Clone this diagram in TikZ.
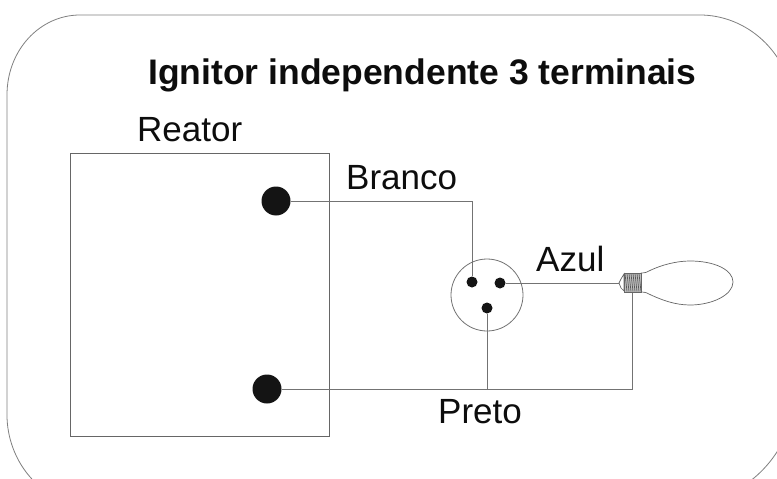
\documentclass[tikz,border=0pt]{standalone}
\usepackage{fontspec}
\setmainfont{Liberation Sans}
\tikzset{
  wire/.style={draw=black!55,line width=1pt},
  frameline/.style={draw=black!50,line width=0.8pt},
  pin/.style={circle,fill=black!92,inner sep=0pt,minimum size=#1},
  lbl/.style={anchor=base west,inner sep=0pt,text=black!95,font=\fontsize{35}{35}\selectfont}
}
\begin{document}
\begin{tikzpicture}[x=1pt,y=-1pt]
\useasboundingbox (0,0) rectangle (777,479);
\fill[white] (0,0) rectangle (777,479);
\begin{scope}
\clip (0,0) rectangle (777,479);
\draw[frameline] (7,95) .. controls (7,50) and (40,15) .. (80,15) -- (700,15) .. controls (745,15) and (790,50) .. (795,110) -- (795,400) .. controls (790,450) and (755,490) .. (705,503) -- (85,503) .. controls (40,503) and (7,460) .. (7,415) -- cycle;
\end{scope}
\node[lbl,font=\fontsize{35.5}{35.5}\selectfont\bfseries] (title) at (148,84) {Ignitor independente 3 terminais};
\node[lbl] (reator) at (137,141) {Reator};
\node[lbl] (branco) at (346,189) {Branco};
\node[lbl] (azul) at (536,271) {Azul};
\node[lbl] (preto) at (438,423.5) {Preto};
\node[draw=black!60,line width=0.8pt,minimum width=259pt,minimum height=283pt,inner sep=0pt] (box) at (199.5,294.5) {};
\node[draw=black!55,line width=0.8pt,circle,minimum size=72pt,inner sep=0pt] (socket) at (487,295) {};
\node[pin=29pt] (t1) at (276,201) {};
\node[pin=29pt] (t2) at (267,389) {};
\node[pin=11pt] (s1) at (472,282) {};
\node[pin=11pt] (s2) at (500,283) {};
\node[pin=11pt] (s3) at (487,308) {};
\coordinate (lamptip) at (620,283);
\coordinate (lampbase) at (632,292);
\coordinate (c1) at (472,201);
\coordinate (c2) at (632,389);
\coordinate (c3) at (487,389);
\draw[wire] (t1) -- (c1) -- (s1);
\draw[wire] (s2) -- (lamptip);
\draw[wire] (t2) -- (c2) -- (lampbase);
\draw[wire] (s3) -- (c3);
% lamp
\draw[draw=black!60,line width=0.7pt,fill=white] (641,273) .. controls (645,273) and (648,272) .. (651,270) .. controls (662,265) and (676,261) .. (690,261) .. controls (715,261) and (733,270) .. (733,282) .. controls (733,295) and (712,305) .. (690,305) .. controls (675,305) and (662,300) .. (651,295) .. controls (648,293) and (645,292) .. (641,292);
\draw[draw=black!60,line width=0.7pt,fill=white] (624,274) -- (621,279) -- (619,283) -- (621,288) -- (624,291) -- cycle;
\fill[black!25] (624,273) rectangle (641,292);
\foreach \i in {0,1,2,3,4,5,6,7}
  \draw[black!65,line width=0.7pt] (625+2*\i,273.5) -- (627+2*\i,291.5);
\draw[black!60,line width=0.7pt] (624,273) -- (641,273) -- (641,292) -- (624,292) -- cycle;
\end{tikzpicture}
\end{document}
